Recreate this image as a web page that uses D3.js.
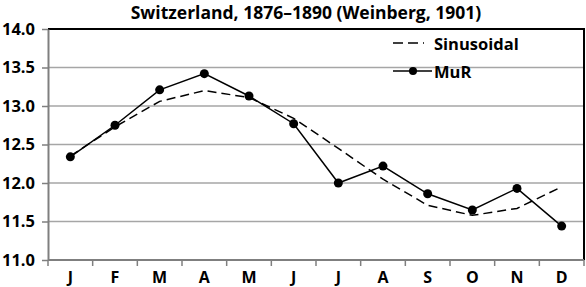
<!DOCTYPE html>
<html>
<head>
<meta charset="utf-8">
<script src="https://cdn.jsdelivr.net/npm/d3@7"></script>
<style>
  body { margin: 0; background: #fff; }
  text { font-family: "Open Sans", "Liberation Sans", sans-serif; font-weight: bold; fill: #000; }
</style>
</head>
<body>
<svg id="chart" width="586" height="287"></svg>
<script>
// Monthly values
const months = ["J", "F", "M", "A", "M", "J", "J", "A", "S", "O", "N", "D"];
const mur = [12.34, 12.75, 13.21, 13.42, 13.13, 12.77, 12.00, 12.22, 11.86, 11.65, 11.93, 11.44];
const sinusoidal = [12.35, 12.73, 13.06, 13.20, 13.11, 12.84, 12.45, 12.05, 11.71, 11.58, 11.67, 11.95];
const yTicks = [11.0, 11.5, 12.0, 12.5, 13.0, 13.5, 14.0];

const svg = d3.select("#chart");
const margin = { top: 29, right: 2, bottom: 27, left: 48 };
const width = 586 - margin.left - margin.right;
const height = 287 - margin.top - margin.bottom;
const fontSize = "16.5px";

const g = svg.append("g").attr("transform", `translate(${margin.left},${margin.top})`);

// Scales
const x = d3.scaleBand().domain(d3.range(months.length)).range([0, width]);
const y = d3.scaleLinear().domain([11, 14]).range([height, 0]);
const cx = i => x(i) + x.bandwidth() / 2;

// Horizontal grid lines
g.selectAll(".grid")
  .data(yTicks)
  .enter()
  .append("line")
  .attr("x1", 0)
  .attr("x2", width)
  .attr("y1", d => y(d))
  .attr("y2", d => y(d))
  .attr("stroke", "#a6a6a6")
  .attr("stroke-width", 1.5);

// Top and right border of plot area
g.append("path")
  .attr("d", `M0,${y(14)}H${width}V${height}`)
  .attr("fill", "none")
  .attr("stroke", "#000")
  .attr("stroke-width", 2);

// Y axis
const yAxis = g.append("g")
  .call(d3.axisLeft(y).tickValues(yTicks).tickFormat(d3.format(".1f")).tickSize(6).tickSizeOuter(0));
yAxis.select(".domain").attr("stroke", "#7f7f7f").attr("stroke-width", 2);
yAxis.selectAll(".tick line").attr("stroke", "#7f7f7f").attr("stroke-width", 1.5);
yAxis.selectAll(".tick text")
  .attr("x", -13)
  .style("font-size", fontSize)
  .style("font-family", "Open Sans, sans-serif")
  .style("font-weight", "bold");

// X axis: ticks between categories
const xAxis = g.append("g").attr("transform", `translate(0,${height})`);
xAxis.append("line")
  .attr("x1", 0).attr("x2", width)
  .attr("stroke", "#7f7f7f").attr("stroke-width", 2);
xAxis.selectAll(".xtick")
  .data(d3.range(months.length + 1))
  .enter()
  .append("line")
  .attr("x1", i => i < months.length ? x(i) : width)
  .attr("x2", i => i < months.length ? x(i) : width)
  .attr("y1", 0).attr("y2", 6)
  .attr("stroke", "#7f7f7f").attr("stroke-width", 1.5);
xAxis.selectAll(".xlabel")
  .data(months)
  .enter()
  .append("text")
  .attr("x", (d, i) => cx(i))
  .attr("y", 22.5)
  .attr("text-anchor", "middle")
  .style("font-size", "16px")
  .text(d => d);

// Lines
const line = d3.line().x((d, i) => cx(i)).y(d => y(d));

g.append("path")
  .datum(sinusoidal)
  .attr("d", line)
  .attr("fill", "none")
  .attr("stroke", "#000")
  .attr("stroke-width", 1.5)
  .attr("stroke-dasharray", "9,5");

g.append("path")
  .datum(mur)
  .attr("d", line)
  .attr("fill", "none")
  .attr("stroke", "#000")
  .attr("stroke-width", 1.5);

g.selectAll(".dot")
  .data(mur)
  .enter()
  .append("circle")
  .attr("cx", (d, i) => cx(i))
  .attr("cy", d => y(d))
  .attr("r", 4.5)
  .attr("fill", "#000");

// Legend
const legend = svg.append("g");
legend.append("line")
  .attr("x1", 393).attr("x2", 424).attr("y1", 43).attr("y2", 43)
  .attr("stroke", "#000").attr("stroke-width", 1.5)
  .attr("stroke-dasharray", "10,5");
legend.append("text").attr("x", 434).attr("y", 49.5).style("font-size", fontSize).text("Sinusoidal");

legend.append("line")
  .attr("x1", 393).attr("x2", 432).attr("y1", 71).attr("y2", 71)
  .attr("stroke", "#000").attr("stroke-width", 1.5);
legend.append("circle").attr("cx", 413).attr("cy", 71).attr("r", 4).attr("fill", "#000");
legend.append("text").attr("x", 434).attr("y", 77.5).style("font-size", fontSize).text("MuR");

// Title
svg.append("text")
  .attr("x", 306)
  .attr("y", 19)
  .attr("text-anchor", "middle")
  .style("font-size", "17.5px")
  .text("Switzerland, 1876\u20131890 (Weinberg, 1901)");
</script>
</body>
</html>
